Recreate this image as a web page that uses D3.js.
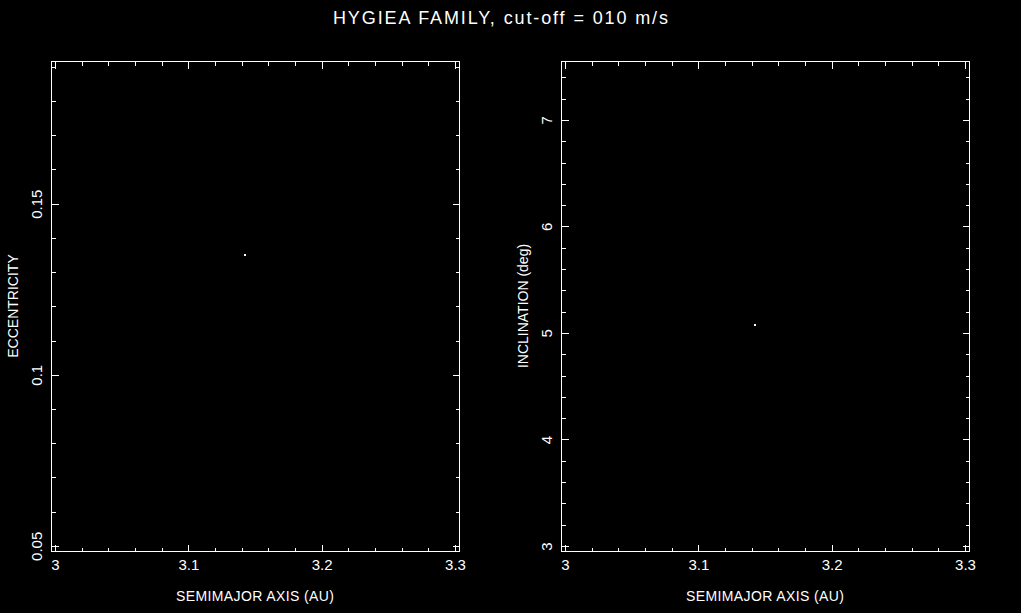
<!DOCTYPE html>
<html>
<head>
<meta charset="utf-8">
<script src="https://cdn.jsdelivr.net/npm/d3@7"></script>
<style>
  html, body { margin: 0; padding: 0; background: #000; }
  svg { display: block; }
  text { font-family: "Liberation Sans", Arial, sans-serif; fill: #fff; }
</style>
</head>
<body>
<svg id="chart" width="1021" height="613"></svg>
<script>
// ---- data ----
const titleText = "HYGIEA FAMILY, cut-off = 010 m/s";
const semimajorAxis = [3.1425];   // AU
const eccentricity  = [0.1349];
const inclination   = [5.07];     // deg

const xTickValues = [3, 3.1, 3.2, 3.3];
const eTickValues = [0.05, 0.1, 0.15];
const iTickValues = [3, 4, 5, 6, 7];
const xLabel = "SEMIMAJOR AXIS (AU)";
const eLabel = "ECCENTRICITY";
const iLabel = "INCLINATION (deg)";

const xDomain = [2.997, 3.303];
const eDomain = [0.0485, 0.1917];
const iDomain = [2.953, 7.553];

// ---- layout ----
const W = 1021, H = 613;
const plotTop = 61, plotBottom = 551;
const panels = [
  { left: 51,  right: 459, yDomain: eDomain, yTicks: eTickValues, yMinorStep: 0.01, yLabel: eLabel, yVals: eccentricity },
  { left: 561, right: 969, yDomain: iDomain, yTicks: iTickValues, yMinorStep: 0.2,  yLabel: iLabel, yVals: inclination }
];

const svg = d3.select("#chart");
svg.append("rect").attr("width", W).attr("height", H).attr("fill", "#000");

svg.append("text")
  .attr("x", 500.5).attr("y", 24)
  .attr("text-anchor", "middle")
  .attr("textLength", 335).attr("lengthAdjust", "spacing")
  .style("font-size", "18px")
  .text(titleText);

function minorTicks(domain, step, majors) {
  const out = [];
  const start = Math.ceil(domain[0] / step - 1e-9);
  const end = Math.floor(domain[1] / step + 1e-9);
  for (let k = start; k <= end; k++) {
    const v = +(k * step).toFixed(6);
    if (!majors.some(m => Math.abs(m - v) < 1e-6)) out.push(v);
  }
  return out;
}

panels.forEach(p => {
  const x = d3.scaleLinear().domain(xDomain).range([p.left, p.right]);
  const y = d3.scaleLinear().domain(p.yDomain).range([plotBottom, plotTop]);
  const g = svg.append("g").attr("shape-rendering", "crispEdges");

  const xMinor = minorTicks(xDomain, 0.02, xTickValues);
  const yMinor = minorTicks(p.yDomain, p.yMinorStep, p.yTicks);

  const styleAxis = sel => {
    sel.select(".domain").remove();
    sel.selectAll("line").attr("stroke", "#fff").attr("stroke-width", 1);
  };

  // bottom major with labels
  const gb = g.append("g").attr("transform", `translate(0,${plotBottom + 0.5})`)
    .call(d3.axisBottom(x).tickValues(xTickValues).tickSize(-7).tickPadding(8).tickFormat(d3.format("")))
    .call(styleAxis);
  gb.selectAll("text").attr("fill", "#fff").style("font-size", "15px").attr("font-family", null);
  g.append("g").attr("transform", `translate(0,${plotBottom + 0.5})`)
    .call(d3.axisBottom(x).tickValues(xMinor).tickSize(-4).tickFormat(""))
    .call(styleAxis);
  // top
  g.append("g").attr("transform", `translate(0,${plotTop + 0.5})`)
    .call(d3.axisTop(x).tickValues(xTickValues).tickSize(-7).tickFormat(""))
    .call(styleAxis);
  g.append("g").attr("transform", `translate(0,${plotTop + 0.5})`)
    .call(d3.axisTop(x).tickValues(xMinor).tickSize(-4).tickFormat(""))
    .call(styleAxis);

  // left major with rotated labels
  const gl = g.append("g").attr("transform", `translate(${p.left + 0.5},0)`)
    .call(d3.axisLeft(y).tickValues(p.yTicks).tickSize(-7).tickFormat(d3.format("")))
    .call(styleAxis);
  gl.selectAll("text")
    .attr("fill", "#fff").attr("font-family", null)
    .style("font-size", "15px")
    .attr("text-anchor", "middle")
    .attr("transform", "rotate(-90)")
    .attr("x", 0).attr("y", -9.5).attr("dy", null);
  g.append("g").attr("transform", `translate(${p.left + 0.5},0)`)
    .call(d3.axisLeft(y).tickValues(yMinor).tickSize(-4).tickFormat(""))
    .call(styleAxis);
  // right
  g.append("g").attr("transform", `translate(${p.right + 0.5},0)`)
    .call(d3.axisRight(y).tickValues(p.yTicks).tickSize(-7).tickFormat(""))
    .call(styleAxis);
  g.append("g").attr("transform", `translate(${p.right + 0.5},0)`)
    .call(d3.axisRight(y).tickValues(yMinor).tickSize(-4).tickFormat(""))
    .call(styleAxis);

  // frame
  g.append("rect")
    .attr("x", p.left + 0.5).attr("y", plotTop + 0.5)
    .attr("width", p.right - p.left).attr("height", plotBottom - plotTop)
    .attr("fill", "none").attr("stroke", "#fff").attr("stroke-width", 1);

  // axis labels
  svg.append("text")
    .attr("x", (p.left + p.right) / 2).attr("y", 601)
    .attr("text-anchor", "middle")
    .attr("textLength", 158).attr("lengthAdjust", "spacing")
    .style("font-size", "14px")
    .text(xLabel);
  svg.append("text")
    .attr("transform", `translate(${p.left - 33},${(plotTop + plotBottom) / 2}) rotate(-90)`)
    .attr("text-anchor", "middle")
    .style("font-size", "14px")
    .text(p.yLabel);

  // points
  g.selectAll("rect.pt")
    .data(semimajorAxis.map((a, k) => [a, p.yVals[k]]))
    .join("rect").attr("class", "pt")
    .attr("x", d => Math.round(x(d[0])) - 1)
    .attr("y", d => Math.round(y(d[1])) - 1)
    .attr("width", 2).attr("height", 2)
    .attr("fill", "#fff");
});
</script>
</body>
</html>
